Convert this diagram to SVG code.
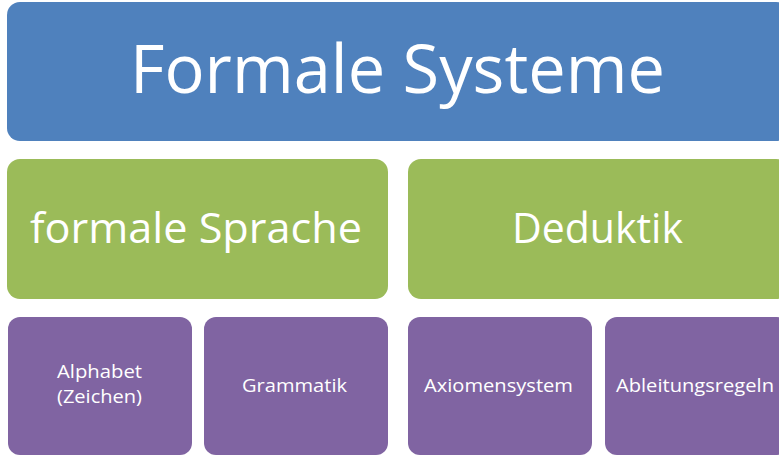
<svg xmlns="http://www.w3.org/2000/svg" width="779" height="456" viewBox="0 0 779 456">
<style>
.t{font-family:"Open Sans","Noto Sans","Liberation Sans",sans-serif;fill:#ffffff;text-anchor:middle}
.blue{fill:#4F81BD}
.green{fill:#9BBB59}
.purple{fill:#8064A2}
</style>
<rect width="779" height="456" fill="#ffffff"/>
<g id="formale-systeme">
<rect class="blue" x="7" y="2" width="782" height="139" rx="13"/>
<text class="t" x="397.5" y="93" font-size="68" textLength="535" lengthAdjust="spacingAndGlyphs">Formale Systeme</text>
</g>
<g id="formale-sprache">
<rect class="green" x="7" y="159" width="381" height="140" rx="13"/>
<text class="t" x="196" y="243" font-size="42" textLength="332" lengthAdjust="spacingAndGlyphs">formale Sprache</text>
</g>
<g id="deduktik">
<rect class="green" x="408" y="159" width="381" height="140" rx="13"/>
<text class="t" x="597.5" y="243" font-size="42" textLength="171" lengthAdjust="spacingAndGlyphs">Deduktik</text>
</g>
<g id="alphabet">
<rect class="purple" x="8" y="317" width="184" height="138" rx="12"/>
<text class="t" x="99.5" y="378" font-size="18" textLength="85" lengthAdjust="spacingAndGlyphs">Alphabet</text>
<text class="t" x="99.5" y="403" font-size="18" textLength="85" lengthAdjust="spacingAndGlyphs">(Zeichen)</text>
</g>
<g id="grammatik">
<rect class="purple" x="204" y="317" width="184" height="138" rx="12"/>
<text class="t" x="294.5" y="392" font-size="18" textLength="105" lengthAdjust="spacingAndGlyphs">Grammatik</text>
</g>
<g id="axiomensystem">
<rect class="purple" x="408" y="317" width="184" height="138" rx="12"/>
<text class="t" x="498.5" y="392" font-size="18" textLength="149" lengthAdjust="spacingAndGlyphs">Axiomensystem</text>
</g>
<g id="ableitungsregeln">
<rect class="purple" x="605" y="317" width="184" height="138" rx="12"/>
<text class="t" x="695" y="392" font-size="18" textLength="158" lengthAdjust="spacingAndGlyphs">Ableitungsregeln</text>
</g>
<g id="connectors"></g>
</svg>
